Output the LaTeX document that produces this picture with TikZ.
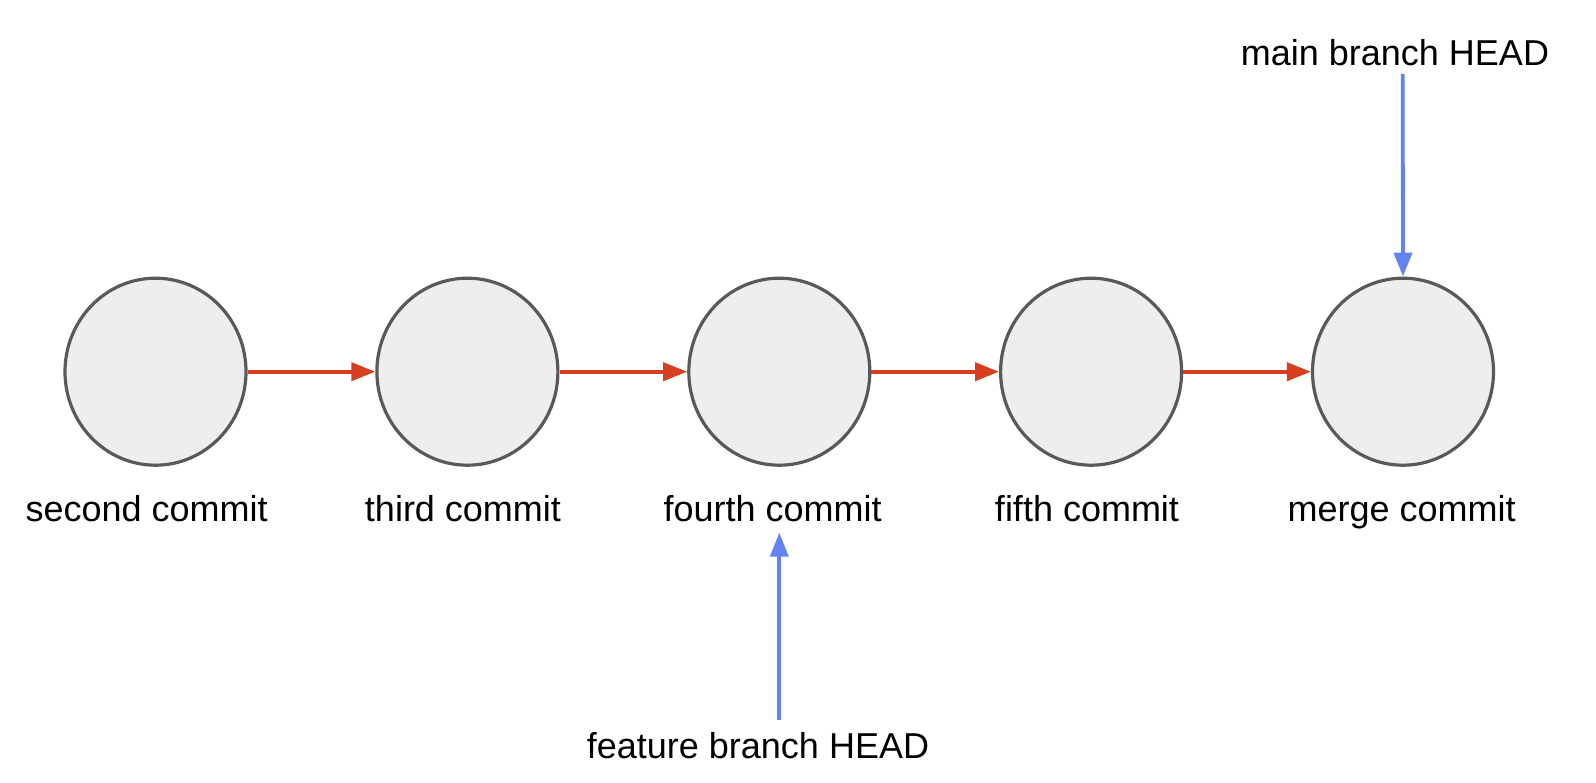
\documentclass[tikz,border=0pt]{standalone}
\usepackage{fontspec}
\setmainfont{Liberation Sans}
\usetikzlibrary{arrows.meta,shapes.geometric}
\definecolor{commitfill}{HTML}{EEEEEE}
\definecolor{commitline}{HTML}{595959}
\definecolor{redarrow}{HTML}{D64020}
\definecolor{bluearrow}{HTML}{6283F0}
\tikzset{
  commit/.style={ellipse, draw=commitline, fill=commitfill, line width=1.6pt,
    minimum width=90.5pt, minimum height=93.5pt, inner sep=0pt},
  label text/.style={anchor=base, inner sep=0pt, font=\fontsize{18}{20}\selectfont},
  parentarrow/.style={draw=redarrow, line width=2pt,
    -{Triangle[length=12pt,width=9pt,fill=redarrow]}},
  headarrow/.style={draw=bluearrow, line width=1.9pt,
    -{Triangle[length=12pt,width=9pt,fill=bluearrow]}}
}
\begin{document}
\begin{tikzpicture}[x=0.5pt,y=-0.5pt]
\useasboundingbox (0,0) rectangle (1596,782);
\node[commit] (c1) at (155.5,371.7) {};
\node[commit] (c2) at (467.4,371.7) {};
\node[commit] (c3) at (779.3,371.7) {};
\node[commit] (c4) at (1091.1,371.7) {};
\node[commit] (c5) at (1403,371.7) {};
\node[label text] (l1) at (146.7,521) {second commit};
\node[label text] (l2) at (463,521) {third commit};
\node[label text] (l3) at (772.6,521) {fourth commit};
\node[label text] (l4) at (1087,521) {fifth commit};
\node[label text] (l5) at (1401.6,521) {merge commit};
\node[label text] (mainhead) at (1395,65) {main branch HEAD};
\node[label text] (featurehead) at (758,758) {feature branch HEAD};
\draw[parentarrow] (c1.east) -- (c2.west);
\draw[parentarrow] (c2.east) -- (c3.west);
\draw[parentarrow] (c3.east) -- (c4.west);
\draw[parentarrow] (c4.east) -- (c5.west);
\coordinate (mainstart) at (1402.7,74);
\draw[headarrow] (mainstart) -- (c5.north);
\coordinate (featstart) at (779.3,720);
\coordinate (feattip) at (779.3,532.7);
\draw[headarrow] (featstart) -- (feattip);
\end{tikzpicture}
\end{document}
